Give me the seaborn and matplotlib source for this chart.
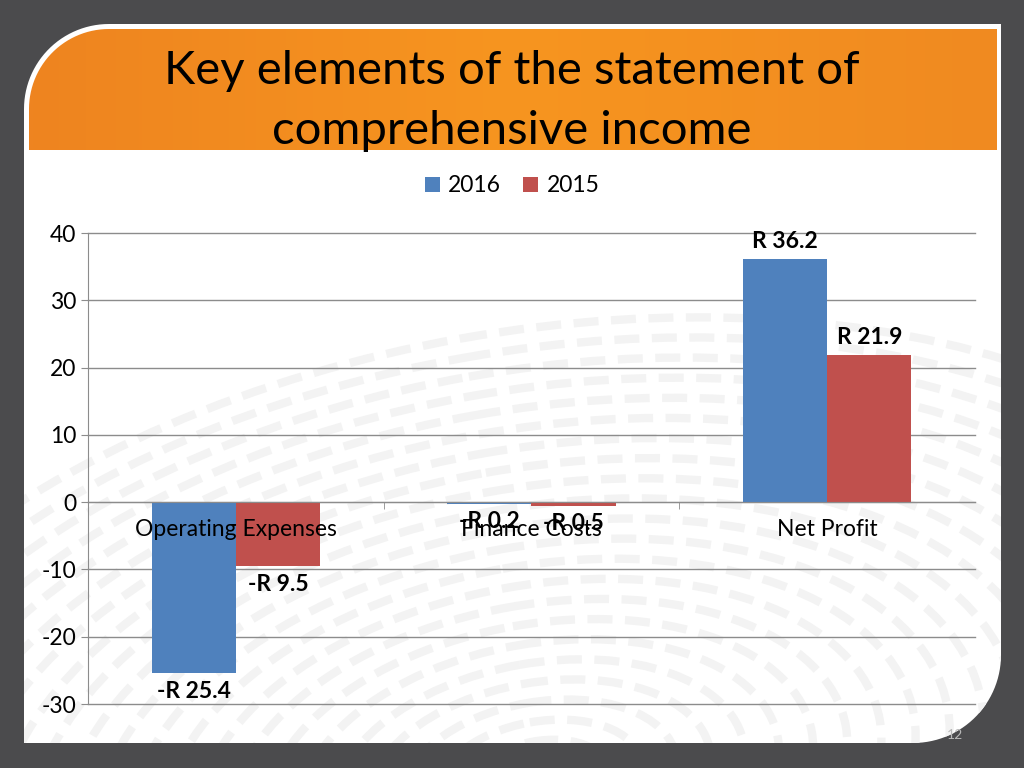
import numpy as np
import pandas as pd
import matplotlib.pyplot as plt
from matplotlib.path import Path
from matplotlib.patches import PathPatch, Ellipse
from matplotlib.colors import LinearSegmentedColormap
import seaborn as sns

# chart values
items = ['Operating Expenses', 'Finance Costs', 'Net Profit']
values_2016 = [-25.4, -0.2, 36.2]
values_2015 = [-9.5, -0.5, 21.9]
years = ['2016', '2015']
bar_colors = ['#4F81BD', '#C0504D']
y_ticks = [-30, -20, -10, 0, 10, 20, 30, 40]
title = 'Key elements of the statement of\ncomprehensive income'

W, H = 1024, 768
FS = 16.5

plt.rcParams['axes.unicode_minus'] = False


def rounded_panel(x0, y0, x1, y1, r, r2):
    # rectangle with rounded top-left (r) and bottom-right (r2) corners, pixel coords, y down
    t = np.linspace(np.pi, 1.5 * np.pi, 30)
    tl = np.column_stack([x0 + r + r * np.cos(t), y0 + r + r * np.sin(t)])
    pts = [tl, [[x1, y0]]]
    if r2 > 0:
        t2 = np.linspace(0, 0.5 * np.pi, 30)
        pts.append(np.column_stack([x1 - r2 + r2 * np.cos(t2), y1 - r2 + r2 * np.sin(t2)]))
    else:
        pts.append([[x1, y1]])
    pts += [[[x0, y1]], tl[:1]]
    return Path(np.vstack(pts))


def draw_slide(fig):
    bg = fig.add_axes([0, 0, 1, 1], zorder=0)
    bg.axis('off')
    bg.add_patch(PathPatch(Path([(0, 0), (W, 0), (W, H), (0, H), (0, 0)]),
                           facecolor='#4B4B4D', edgecolor='none', zorder=1))
    panel = PathPatch(rounded_panel(24, 24, 1001, 743, 85, 88),
                      facecolor='white', edgecolor='none', zorder=1)
    bg.add_patch(panel)
    # faint swirl pattern in the background
    for r in range(60, 700, 30):
        e = Ellipse((540, 780), 2.3 * r, 1.3 * r, angle=-10, fill=False,
                    edgecolor='#F3F3F3', linewidth=6, linestyle=(0, (3, 1.5)), zorder=1.5)
        bg.add_patch(e)
        e.set_clip_path(panel)
    # orange banner with a soft gradient
    banner = PathPatch(rounded_panel(29, 29, 997, 150, 80, 0), facecolor='none', edgecolor='none')
    bg.add_patch(banner)
    grad = np.linspace(0, 1, 256).reshape(1, -1)
    cmap = LinearSegmentedColormap.from_list('org', ['#EE8420', '#F7951F', '#F08A21'])
    im = bg.imshow(grad, extent=[29, 997, 150, 29], cmap=cmap, aspect='auto', zorder=2)
    im.set_clip_path(banner)
    bg.set_xlim(0, W)
    bg.set_ylim(H, 0)
    bg.text(512, 101, title, ha='center', va='center', fontsize=34,
            family='Lato', color='black', linespacing=1.5, zorder=3)
    bg.text(955, 735, '12', ha='center', va='center', fontsize=10,
            family='Lato', color='#B8B8B8', zorder=3)


def draw_chart(fig):
    df = pd.DataFrame({
        'item': items * 2,
        'value': values_2016 + values_2015,
        'year': [years[0]] * 3 + [years[1]] * 3,
    })
    ax = fig.add_axes([0.0859, 0.0833, 0.8662, 0.6133], zorder=1)
    ax.patch.set_alpha(0)
    sns.barplot(data=df, x='item', y='value', hue='year', hue_order=years,
                palette=bar_colors, saturation=1, width=0.57, ax=ax, errorbar=None)
    ax.set_xlim(-0.5, 2.5)
    ax.set_ylim(-30, 40)
    ax.set_yticks(y_ticks)
    ax.set_xlabel('')
    ax.set_ylabel('')
    ax.grid(axis='y', color='#8C8C8C', linewidth=1)
    for gl in ax.get_ygridlines():
        gl.set_clip_on(False)
    ax.set_axisbelow(True)
    ax.xaxis.set_zorder(5)  # category names sit on top of the bars
    for s in ['top', 'right']:
        ax.spines[s].set_visible(False)
    ax.spines['left'].set_color('#8C8C8C')
    ax.spines['bottom'].set_color('#8C8C8C')
    ax.spines['bottom'].set_position(('data', 0))
    ax.tick_params(axis='y', colors='#8C8C8C', labelcolor='black', labelsize=FS, length=5)
    ax.tick_params(axis='x', which='major', length=0, labelsize=FS, pad=12)
    ax.set_xticks([0.5, 1.5], minor=True)
    ax.tick_params(axis='x', which='minor', length=5, colors='#8C8C8C')
    for lab in ax.get_xticklabels() + ax.get_yticklabels():
        lab.set_family('Lato')

    # value labels above/below each bar
    for cont in ax.containers:
        for bar in cont:
            v = bar.get_height()
            x = bar.get_x() + bar.get_width() / 2
            if v >= 0:
                ax.text(x, v + 2.6, 'R %.1f' % v, ha='center', va='center', fontsize=FS,
                        fontweight='bold', family='Lato', zorder=6)
            else:
                ax.text(x, v - 2.7, '-R %.1f' % -v, ha='center', va='center', fontsize=FS,
                        fontweight='bold', family='Lato', zorder=6)

    ax.legend(loc='center', bbox_to_anchor=(0.478, 1.10), ncol=2, frameon=False,
              handlelength=0.65, handleheight=0.65, handletextpad=0.35, columnspacing=1.0,
              prop={'family': 'Lato', 'size': FS})


def main():
    fig = plt.figure(figsize=(10.24, 7.68), dpi=100)
    draw_slide(fig)
    draw_chart(fig)
    fig.savefig('out.png', dpi=100)


if __name__ == '__main__':
    main()
